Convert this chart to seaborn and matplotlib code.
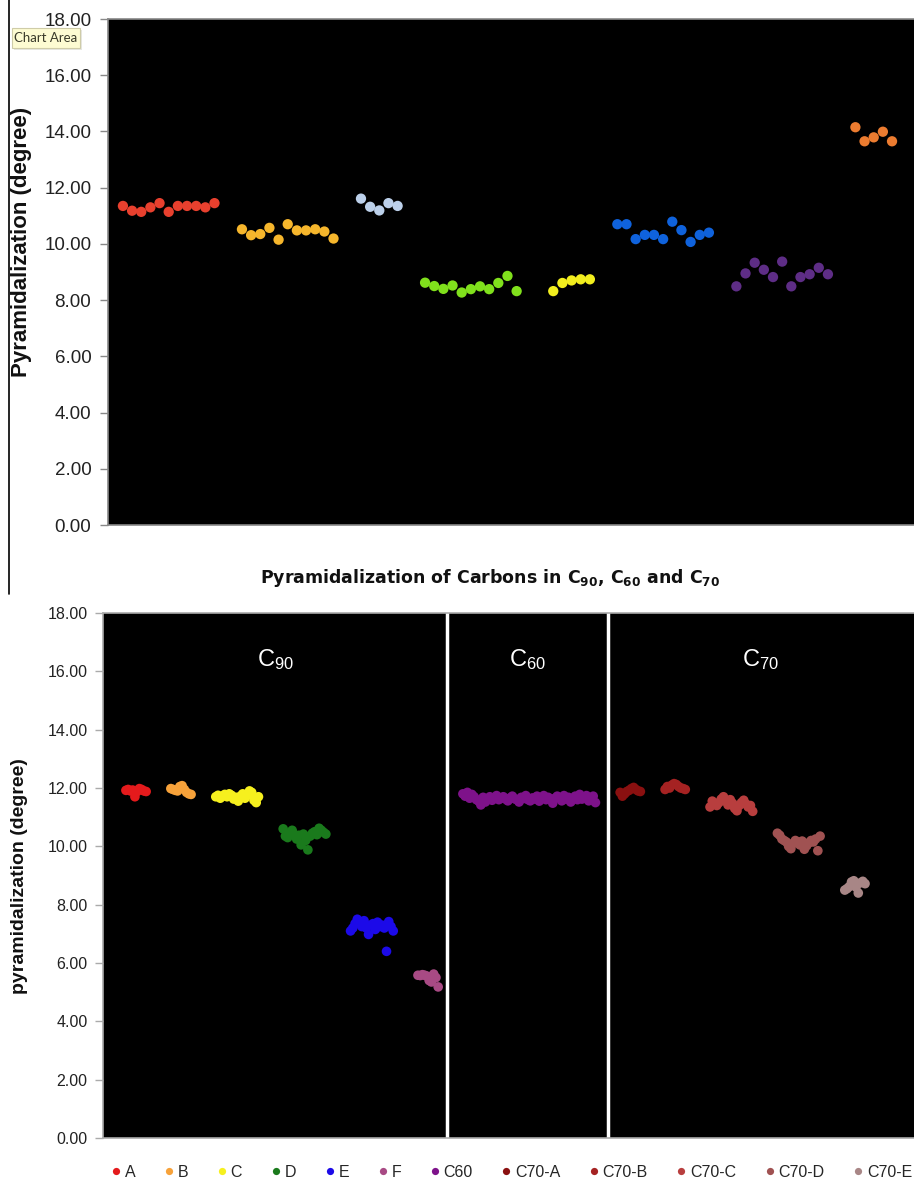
import numpy as np
import pandas as pd
import matplotlib
matplotlib.use("Agg")
import matplotlib.pyplot as plt
import seaborn as sns
from matplotlib.lines import Line2D
from matplotlib.patches import FancyBboxPatch
from matplotlib.ticker import FormatStrFormatter

# ---------------- data: top chart ----------------
top_groups = ["G1", "G2", "G3", "G4", "G5", "G6", "G7", "G8"]
top_g1 = [11.35, 11.18, 11.14, 11.30, 11.45, 11.14, 11.35, 11.35, 11.35, 11.30, 11.45]
top_g2 = [10.52, 10.31, 10.35, 10.57, 10.15, 10.70, 10.48, 10.48, 10.52, 10.44, 10.19]
top_g3 = [11.61, 11.32, 11.19, 11.45, 11.35]
top_g4 = [8.62, 8.50, 8.40, 8.52, 8.27, 8.39, 8.49, 8.39, 8.61, 8.86, 8.32]
top_g5 = [8.32, 8.61, 8.70, 8.74, 8.74]
top_g6 = [10.70, 10.70, 10.17, 10.32, 10.32, 10.17, 10.79, 10.49, 10.07, 10.32, 10.40]
top_g7 = [8.49, 8.95, 9.33, 9.08, 8.82, 9.37, 8.49, 8.82, 8.92, 9.15, 8.92]
top_g8 = [14.15, 13.65, 13.79, 13.99, 13.65]
top_values = [top_g1, top_g2, top_g3, top_g4, top_g5, top_g6, top_g7, top_g8]

# ---------------- data: bottom chart ----------------
bot_groups = ["A", "B", "C", "D", "E", "F", "C60", "C70-A", "C70-B", "C70-C", "C70-D", "C70-E"]
bot_A = [11.92, 11.95, 11.90, 11.93, 11.70, 11.88, 11.98, 11.95, 11.90, 11.88]
bot_B = [11.98, 11.95, 11.92, 11.90, 12.05, 12.08, 11.95, 11.85, 11.80, 11.78]
bot_C = [11.70, 11.75, 11.65, 11.72, 11.78, 11.70, 11.80, 11.75, 11.62, 11.68,
         11.55, 11.72, 11.80, 11.65, 11.75, 11.90, 11.85, 11.58, 11.50, 11.70]
bot_D = [10.60, 10.35, 10.30, 10.45, 10.55, 10.40, 10.25, 10.38, 10.05, 10.42,
         10.20, 9.88, 10.35, 10.45, 10.50, 10.40, 10.62, 10.55, 10.48, 10.42]
bot_E = [7.10, 7.20, 7.35, 7.50, 7.40, 7.25, 7.45, 7.20, 6.98, 7.30,
         7.35, 7.15, 7.40, 7.25, 7.30, 7.20, 6.40, 7.42, 7.25, 7.10]
bot_F = [5.58, 5.57, 5.60, 5.58, 5.55, 5.40, 5.35, 5.62, 5.50, 5.18]
bot_C60 = [11.80, 11.72, 11.85, 11.65, 11.78, 11.70, 11.60, 11.55, 11.42, 11.68,
           11.52, 11.62, 11.70, 11.58, 11.66, 11.74, 11.60, 11.65, 11.70, 11.62,
           11.56, 11.66, 11.72, 11.63, 11.60, 11.52, 11.68, 11.64, 11.74, 11.60,
           11.56, 11.66, 11.62, 11.72, 11.55, 11.65, 11.74, 11.60, 11.68, 11.62,
           11.48, 11.65, 11.72, 11.66, 11.56, 11.74, 11.62, 11.68, 11.52, 11.64,
           11.72, 11.60, 11.78, 11.62, 11.68, 11.74, 11.56, 11.65, 11.72, 11.50]
bot_C70A = [11.85, 11.72, 11.80, 11.88, 11.92, 11.98, 12.02, 11.95, 11.90, 11.88]
bot_C70B = [11.95, 12.05, 12.00, 12.10, 12.15, 12.12, 12.05, 12.00, 11.98, 11.95]
bot_C70C = [11.35, 11.55, 11.45, 11.40, 11.50, 11.62, 11.70, 11.55, 11.42, 11.60,
            11.48, 11.30, 11.22, 11.40, 11.50, 11.58, 11.45, 11.35, 11.40, 11.20]
bot_C70D = [10.45, 10.38, 10.25, 10.20, 10.15, 10.00, 9.92, 10.10, 10.20, 10.15,
            10.05, 10.18, 9.90, 10.02, 10.12, 10.20, 10.15, 10.25, 9.85, 10.35]
bot_C70E = [8.50, 8.55, 8.62, 8.78, 8.82, 8.60, 8.40, 8.75, 8.80, 8.72]
bot_values = [bot_A, bot_B, bot_C, bot_D, bot_E, bot_F, bot_C60,
              bot_C70A, bot_C70B, bot_C70C, bot_C70D, bot_C70E]
section_labels = ["C$_{90}$", "C$_{60}$", "C$_{70}$"]
y_ticks = [0, 2, 4, 6, 8, 10, 12, 14, 16, 18]

# ---------------- styles ----------------
top_colors = ["#e8402e", "#f6b62c", "#bcd0ea", "#80e01c", "#f2ee1e", "#0f62dc", "#5e2d86", "#ec7c30"]
bot_colors = ["#e41a1c", "#f7a23a", "#f6f01e", "#1a7a1c", "#1c0ae8", "#a84a84", "#7e128a",
              "#8a1010", "#a52222", "#b83e3e", "#a05252", "#a88686"]

# build long tables
top_gaps = [3, 3, 3, 4, 3, 3, 3]
rows = []
x = 1
for i, (g, vals) in enumerate(zip(top_groups, top_values)):
    for j, v in enumerate(vals):
        rows.append((g, x + j, v))
    x = x + len(vals) - 1 + (top_gaps[i] if i < len(top_gaps) else 0)
df_top = pd.DataFrame(rows, columns=["group", "x", "y"])

rows = []
x = 0
first_last = []
for g, vals in zip(bot_groups, bot_values):
    for j, v in enumerate(vals):
        rows.append((g, x + j, v))
    first_last.append((x, x + len(vals) - 1))
    x = x + len(vals) - 1 + 11
df_bot = pd.DataFrame(rows, columns=["group", "x", "y"])

sns.set_theme(style="white")
plt.rcParams["font.family"] = ["Liberation Sans", "DejaVu Sans"]
plt.rcParams["mathtext.default"] = "regular"

W, H = 914, 1179
fig = plt.figure(figsize=(W / 100, H / 100), dpi=100)
fig.patch.set_facecolor("white")

def fx(px):
    return px / W

def fy(py):
    return 1 - py / H

# ---------------- top chart ----------------
ax1 = fig.add_axes([fx(108), fy(525), 1 - fx(108), fy(19) - fy(525)])
ax1.set_facecolor("black")
sns.scatterplot(data=df_top, x="x", y="y", hue="group", palette=top_colors,
                hue_order=top_groups, s=55, linewidth=0, legend=False, ax=ax1)
ax1.set_xlim(-0.63, 87.4)
ax1.set_ylim(0, 18)
ax1.set_yticks(y_ticks)
ax1.yaxis.set_major_formatter(FormatStrFormatter("%.2f"))
ax1.set_xticks([])
ax1.set_xlabel("")
ax1.set_ylabel("")
ax1.tick_params(axis="y", left=True, length=6, width=1, color="#888888",
                labelsize=13.5, labelcolor="#222222", pad=6)
for s in ["left", "bottom", "top"]:
    ax1.spines[s].set_color("#888888")
    ax1.spines[s].set_linewidth(1.2)
ax1.spines["right"].set_visible(False)
fig.text(fx(22), fy(242), "Pyramidalization (degree)", rotation=90, ha="center",
         va="center", fontsize=16, fontweight="bold", color="#111111")

# tooltip and editor line
fig.add_artist(Line2D([fx(9), fx(9)], [fy(594), 1.0], color="black", lw=1.2,
                      transform=fig.transFigure))
shadow = FancyBboxPatch((fx(14), fy(50)), fx(68), fy(28) - fy(48),
                        boxstyle="square,pad=0", transform=fig.transFigure,
                        facecolor="#d8d8d0", edgecolor="none", alpha=0.6)
fig.add_artist(shadow)
box = FancyBboxPatch((fx(12), fy(48)), fx(68), fy(28) - fy(48),
                     boxstyle="square,pad=0", transform=fig.transFigure,
                     facecolor="#fdfbd2", edgecolor="#cfcca8", lw=0.8)
fig.add_artist(box)
fig.text(fx(46), fy(38), "Chart Area", ha="center", va="center", fontsize=9.5,
         color="#3a3a2a", family=["Lato", "DejaVu Sans"])

# ---------------- bottom chart ----------------
ax2 = fig.add_axes([fx(103), fy(1138), 1 - fx(103), fy(613) - fy(1138)])
ax2.set_facecolor("black")
sns.scatterplot(data=df_bot, x="x", y="y", hue="group", palette=bot_colors,
                hue_order=bot_groups, s=48, linewidth=0, legend=True, ax=ax2)
ax2.set_xlim(-10.2, 350.8)
ax2.set_ylim(0, 18)
ax2.set_yticks(y_ticks)
ax2.yaxis.set_major_formatter(FormatStrFormatter("%.2f"))
ax2.set_xticks([])
ax2.set_xlabel("")
ax2.set_ylabel("")
ax2.tick_params(axis="y", left=True, length=6, width=1, color="#aaaaaa",
                labelsize=11.5, labelcolor="#222222", pad=5)
for s in ["left", "bottom", "top"]:
    ax2.spines[s].set_color("#aaaaaa")
    ax2.spines[s].set_linewidth(1.2)
ax2.spines["right"].set_visible(False)

# section dividers and labels
div1 = (first_last[5][1] + first_last[6][0]) / 2 - 1.5
div2 = (first_last[6][1] + first_last[7][0]) / 2
for d in (div1, div2):
    ax2.axvline(d, color="white", lw=2.5)
sec_centers = [(-10.2 + div1) / 2, (div1 + div2) / 2, (div2 + 350.8) / 2]
for lab, cx in zip(section_labels, sec_centers):
    ax2.text(cx, 16.4, lab, color="white", ha="center", va="center", fontsize=17)

fig.text(fx(490), fy(578), "Pyramidalization of Carbons in C$_{\\mathbf{90}}$, C$_{\\mathbf{60}}$ and C$_{\\mathbf{70}}$",
         ha="center", va="center", fontsize=12.5, fontweight="bold", color="#111111",
         family=["DejaVu Sans"])
fig.text(fx(20), fy(876), "pyramidalization (degree)", rotation=90, ha="center",
         va="center", fontsize=14, fontweight="bold", color="#111111")

sns.move_legend(ax2, loc="center", bbox_to_anchor=(0.504, -0.065), ncol=12,
                frameon=False, title=None, markerscale=0.75, handlelength=0.6,
                handletextpad=0.25, columnspacing=1.8, borderpad=0.2,
                prop={"size": 11.5})

fig.savefig("out.png", dpi=100, facecolor="white")
